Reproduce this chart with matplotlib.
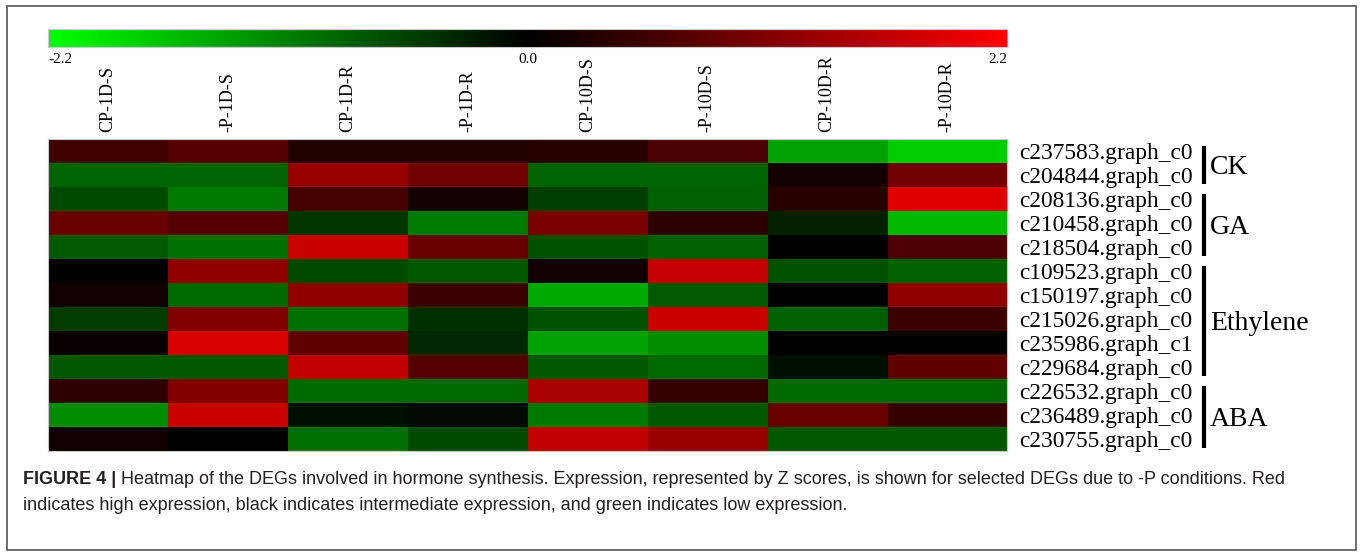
import numpy as np
import matplotlib
matplotlib.use("Agg")
import matplotlib.pyplot as plt
from matplotlib.colors import LinearSegmentedColormap
from matplotlib.patches import Rectangle
from matplotlib.transforms import blended_transform_factory

samples = ["CP-1D-S", "-P-1D-S", "CP-1D-R", "-P-1D-R",
	"CP-10D-S", "-P-10D-S", "CP-10D-R", "-P-10D-R"]
genes = ["c237583.graph_c0", "c204844.graph_c0", "c208136.graph_c0",
	"c210458.graph_c0", "c218504.graph_c0", "c109523.graph_c0",
	"c150197.graph_c0", "c215026.graph_c0", "c235986.graph_c1",
	"c229684.graph_c0", "c226532.graph_c0", "c236489.graph_c0",
	"c230755.graph_c0"]
groups = ["CK", "GA", "Ethylene", "ABA"]
group_sizes = [2, 3, 5, 3]

# Z scores, one row per gene, columns follow samples
z_scores = np.array([
	[ 0.54,  0.73,  0.28,  0.28,  0.35,  0.64, -1.38, -1.76],
	[-0.86, -0.86,  1.32,  0.98, -0.86, -0.86,  0.18,  0.98],
	[-0.64, -1.04,  0.60,  0.18, -0.55, -0.83,  0.35,  1.93],
	[ 0.90,  0.73, -0.48, -1.05,  1.04,  0.38, -0.28, -1.59],
	[-0.78, -0.97,  1.73,  0.90, -0.69, -0.83,  0.00,  0.66],
	[ 0.00,  1.24, -0.64, -0.76,  0.14,  1.69, -0.72, -0.83],
	[ 0.14, -0.91,  1.24,  0.52, -1.45, -0.78,  0.00,  1.24],
	[-0.50,  1.10, -0.97, -0.41, -0.69,  1.73, -0.83,  0.52],
	[ 0.07,  1.86,  0.83, -0.35, -1.38, -1.21,  0.00,  0.00],
	[-0.76, -0.76,  1.66,  0.73, -0.76, -0.90, -0.14,  0.83],
	[ 0.41,  1.10, -0.90, -0.90,  1.45,  0.45, -0.90, -0.90],
	[-1.21,  1.73, -0.14, -0.07, -1.04, -0.76,  0.90,  0.48],
	[ 0.14,  0.00, -0.97, -0.64,  1.66,  1.31, -0.76, -0.76],
])
zmin, zmax = -2.2, 2.2

caption_head = "FIGURE 4 |"
caption_1 = ("Heatmap of the DEGs involved in hormone synthesis. Expression, "
	"represented by Z scores, is shown for selected DEGs due to -P conditions. Red")
caption_2 = ("indicates high expression, black indicates intermediate expression, "
	"and green indicates low expression.")

W, H = 1362, 554
fig = plt.figure(figsize=(W / 100, H / 100), dpi=100)
serif = "Liberation Serif"
sans = "Liberation Sans"


def px_axes(x0, y0, x1, y1):
	# axes placed by pixel box, y measured from the top
	return fig.add_axes([x0 / W, 1 - y1 / H, (x1 - x0) / W, (y1 - y0) / H])


cmap = LinearSegmentedColormap.from_list("green_black_red", ["#00ff00", "#000000", "#ff0000"])

# heatmap
ax = px_axes(48, 139, 1007, 451)
im = ax.imshow(z_scores, cmap=cmap, vmin=zmin, vmax=zmax, aspect="auto", interpolation="nearest")
for sp in ax.spines.values():
	sp.set_edgecolor("#c8c8c8")
	sp.set_linewidth(0.8)

ax.xaxis.tick_top()
ax.set_xticks(np.arange(len(samples)))
ax.set_xticklabels(samples, rotation=90, fontsize=13, family=serif)
ax.tick_params(axis="x", length=0, pad=5)

ax.yaxis.tick_right()
ax.set_yticks(np.arange(len(genes)))
ax.set_yticklabels(genes, fontsize=16.8, family=serif)
ax.tick_params(axis="y", length=0, pad=9)

# group brackets on the right
trans = blended_transform_factory(ax.transAxes, ax.transData)
start = 0
for name, n in zip(groups, group_sizes):
	y0 = start - 0.5 + 0.3
	y1 = start + n - 0.5 - 0.12
	ax.plot([1.2054, 1.2054], [y0, y1], color="black", lw=3, transform=trans,
		clip_on=False, solid_capstyle="butt")
	ax.text(1.2117, (y0 + y1) / 2 + 0.08, name, transform=trans, ha="left", va="center",
		fontsize=20, family=serif)
	start += n

# colour scale bar
cax = px_axes(48, 29, 1007, 47)
cb = fig.colorbar(im, cax=cax, orientation="horizontal")
cb.set_ticks([])
cb.outline.set_edgecolor("#c8c8c8")
cb.outline.set_linewidth(0.8)
cax.text(0, -0.33, "-2.2", transform=cax.transAxes, ha="left", va="top", fontsize=11, family=serif)
cax.text(0.5, -0.33, "0.0", transform=cax.transAxes, ha="center", va="top", fontsize=11, family=serif)
cax.text(1, -0.33, "2.2", transform=cax.transAxes, ha="right", va="top", fontsize=11, family=serif)

# outer frame
fig.patches.append(Rectangle((7 / W, 1 - 550 / H), (1356 - 7) / W, (550 - 6) / H,
	transform=fig.transFigure, fill=False, ec="#555555", lw=1.2))

# caption
cap_color = "#231f20"
y_1 = 1 - 480 / H
y_2 = 1 - 505 / H
head = fig.text(23 / W, y_1, caption_head, ha="left", va="center", fontsize=13,
	weight="bold", family=sans, color=cap_color)
fig.canvas.draw()
bb = head.get_window_extent(fig.canvas.get_renderer())
fig.text((bb.x1 + 5) / W, y_1, caption_1, ha="left", va="center", fontsize=13,
	family=sans, color=cap_color)
fig.text(23 / W, y_2, caption_2, ha="left", va="center", fontsize=13,
	family=sans, color=cap_color)

fig.savefig("out.png", dpi=100)
